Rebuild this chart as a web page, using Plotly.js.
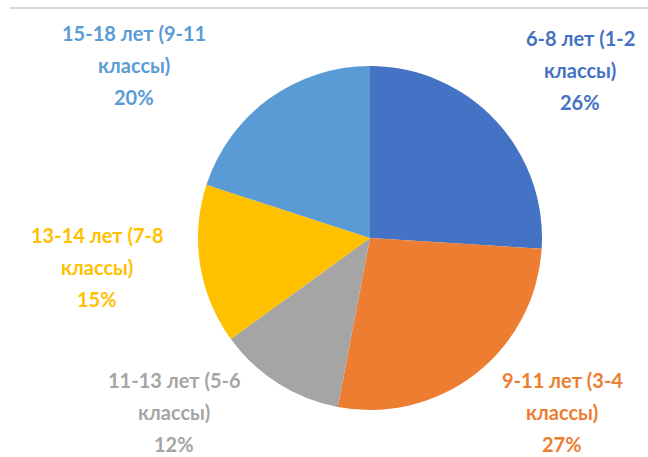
<!DOCTYPE html>
<html>
<head>
<meta charset="utf-8">
<script src="https://cdn.plot.ly/plotly-3.0.1.min.js"></script>
<style>html,body{margin:0;padding:0;background:#fff;}#chart{width:648px;height:457px;}</style>
</head>
<body>
<div id="chart"></div>
<script>
var categories = ["6-8 лет (1-2 классы)", "9-11 лет (3-4 классы)", "11-13 лет (5-6 классы)", "13-14 лет (7-8 классы)", "15-18 лет (9-11 классы)"];
var values = [26, 27, 12, 15, 20];
var colors = ["#4472C4", "#ED7D31", "#A5A5A5", "#FFC000", "#5B9BD5"];
// label anchor centres (pixels) for each category: [x, first line y]
var labelPos = [[580, 38], [562, 380], [174, 380], [97, 235], [134, 33]];
var lineGap = 32;

var W = 648, H = 457;
var cx = 370, cy = 238, r = 172;

var annotations = [];
categories.forEach(function (c, i) {
  var k = c.indexOf(" классы");
  var lines = [c.slice(0, k), c.slice(k + 1), values[i] + "%"];
  lines.forEach(function (t, j) {
    annotations.push({
      text: t, showarrow: false, xref: "paper", yref: "paper",
      x: labelPos[i][0] / W, y: 1 - (labelPos[i][1] + j * lineGap) / H,
      xanchor: "center", yanchor: "middle",
      font: {family: "Lato, 'Open Sans', sans-serif", size: 20, color: colors[i], weight: "bold"}
    });
  });
});

var data = [{
  type: "pie",
  values: values,
  labels: categories,
  sort: false,
  direction: "clockwise",
  rotation: 0,
  marker: {colors: colors, line: {width: 0}},
  textinfo: "none",
  hoverinfo: "label+percent",
  domain: {x: [(cx - r) / W, (cx + r) / W], y: [(H - cy - r) / H, (H - cy + r) / H]}
}];

var layout = {
  width: W, height: H,
  margin: {l: 0, r: 0, t: 0, b: 0},
  showlegend: false,
  paper_bgcolor: "#ffffff",
  annotations: annotations,
  shapes: [{type: "line", xref: "paper", yref: "paper", x0: 10 / W, x1: 1, y0: 1 - 8 / H, y1: 1 - 8 / H, line: {color: "#D9D9D9", width: 2}}]
};

Plotly.newPlot("chart", data, layout, {displayModeBar: false, staticPlot: true});
</script>
</body>
</html>
